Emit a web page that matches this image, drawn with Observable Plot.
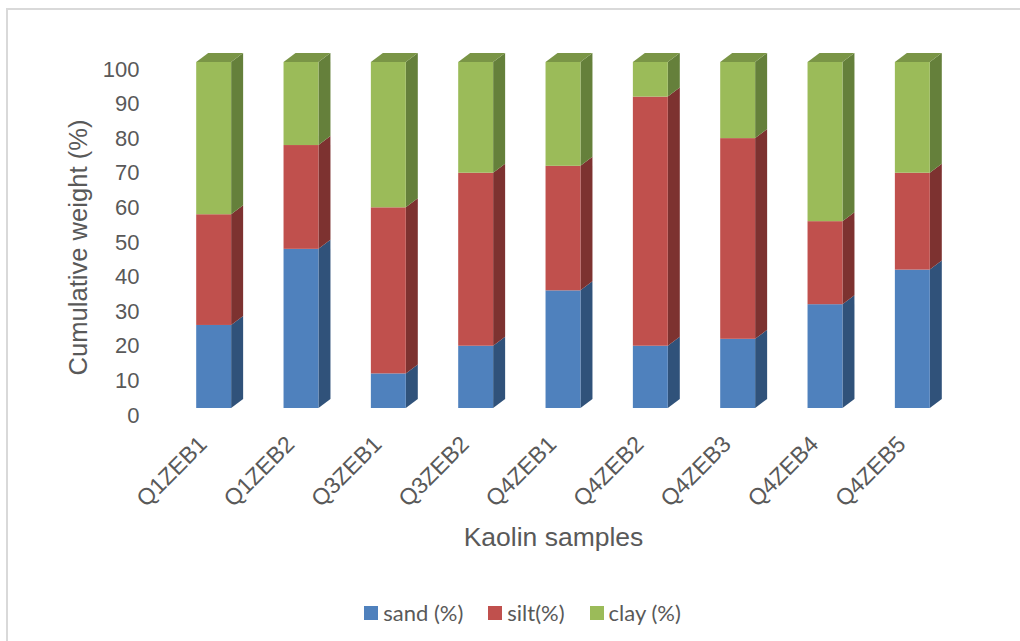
<!DOCTYPE html>
<html>
<head>
<meta charset="utf-8">
<script src="https://cdn.jsdelivr.net/npm/d3@7"></script>
<script src="https://cdn.jsdelivr.net/npm/@observablehq/plot@0.6"></script>
<style>
  html, body { margin: 0; padding: 0; background: #fff; overflow: hidden; }
  #page { position: relative; width: 1020px; height: 641px; overflow: hidden; }
  #frame { position: absolute; left: 6px; top: 8px; right: 0; bottom: -4px; border-left: 2px solid #d9d9d9; border-top: 2px solid #d9d9d9; }
  #chart { position: absolute; left: 0; top: 0; }
  #chart svg { display: block; background: transparent; }
  #legend { position: absolute; left: 0; top: 599px; width: 1020px; display: flex; justify-content: center; gap: 25px; font: 22px Lato, sans-serif; color: #595959; padding-left: 25px; box-sizing: border-box; }
  #legend span { display: inline-flex; align-items: center; gap: 5px; }
  #legend i { display: inline-block; width: 14px; height: 14px; }
</style>
</head>
<body>
<div id="page">
  <div id="frame"></div>
  <div id="chart"></div>
  <div id="legend"></div>
</div>
<script>
const samples = ["Q1ZEB1", "Q1ZEB2", "Q3ZEB1", "Q3ZEB2", "Q4ZEB1", "Q4ZEB2", "Q4ZEB3", "Q4ZEB4", "Q4ZEB5"];
const sand = [24, 46, 10, 18, 34, 18, 20, 30, 40];
const silt = [32, 30, 48, 50, 36, 72, 58, 24, 28];
const clay = [44, 24, 42, 32, 30, 10, 22, 46, 32];
const components = ["sand (%)", "silt(%)", "clay (%)"];
const frontColors = ["#4f81bd", "#c0504d", "#9bbb59"];
const sideColors = ["#30527a", "#7d3230", "#65803b"];
const topColor = "#7a9546";
const yTicks = [0, 10, 20, 30, 40, 50, 60, 70, 80, 90, 100];

// Stack the three fractions per sample into [y1, y2] segments.
const segments = samples.flatMap((sample, i) => {
  const parts = [sand[i], silt[i], clay[i]];
  let base = 0;
  return parts.map((value, k) => {
    const seg = {sample, component: components[k], k, y1: base, y2: base + value};
    base += value;
    return seg;
  });
});

// Pseudo-3D extrusion: side faces per segment and a cap on each column.
const depthX = 12, depthY = 9;
function extrusion(index, {x, y}) {
  const g = d3.create("svg:g");
  for (const s of segments) {
    const xr = x(s.sample) + x.bandwidth();
    const y1 = y(s.y1), y2 = y(s.y2);
    g.append("polygon")
      .attr("points", [[xr, y1], [xr + depthX, y1 - depthY], [xr + depthX, y2 - depthY], [xr, y2]].join(" "))
      .attr("fill", sideColors[s.k]);
  }
  for (const sample of samples) {
    const xl = x(sample), xr = xl + x.bandwidth(), yt = y(100);
    g.append("polygon")
      .attr("points", [[xl, yt], [xr, yt], [xr + depthX, yt - depthY], [xl + depthX, yt - depthY]].join(" "))
      .attr("fill", topColor);
  }
  return g.node();
}

const plot = Plot.plot({
  width: 1020,
  height: 590,
  marginLeft: 170,
  marginRight: 64,
  marginTop: 62,
  marginBottom: 182,
  style: {background: "transparent"},
  x: {domain: samples, paddingInner: 0.6, paddingOuter: 0.3, round: false},
  y: {domain: [0, 100]},
  color: {domain: components, range: frontColors},
  marks: [
    extrusion,
    Plot.rectY(segments, {x: "sample", y1: "y1", y2: "y2", fill: "component"}),
    Plot.axisY({
      ticks: yTicks, tickSize: 0, tickPadding: 31, dy: 7,
      fontSize: 22, fontFamily: "Liberation Sans", color: "#595959", label: null
    }),
    Plot.axisX({
      tickSize: 0, tickRotate: -45, tickPadding: 32, dx: -11,
      fontSize: 23, fontFamily: "Liberation Sans", color: "#595959", label: null
    }),
    Plot.text(["Cumulative weight (%)"], {
      frameAnchor: "left", textAnchor: "middle", dx: -92, dy: 12, rotate: -90, fontSize: 25.6,
      fontFamily: "Liberation Sans", fill: "#595959"
    }),
    Plot.text(["Kaolin samples"], {
      frameAnchor: "bottom", dx: -10, dy: 137, fontSize: 26.5,
      fontFamily: "Liberation Sans", fill: "#595959"
    })
  ]
});
document.getElementById("chart").append(plot);

const legend = d3.select("#legend");
components.forEach((name, k) => {
  const item = legend.append("span");
  item.append("i").style("background", frontColors[k]);
  item.append("b").style("font-weight", "400").text(name);
});
</script>
</body>
</html>
